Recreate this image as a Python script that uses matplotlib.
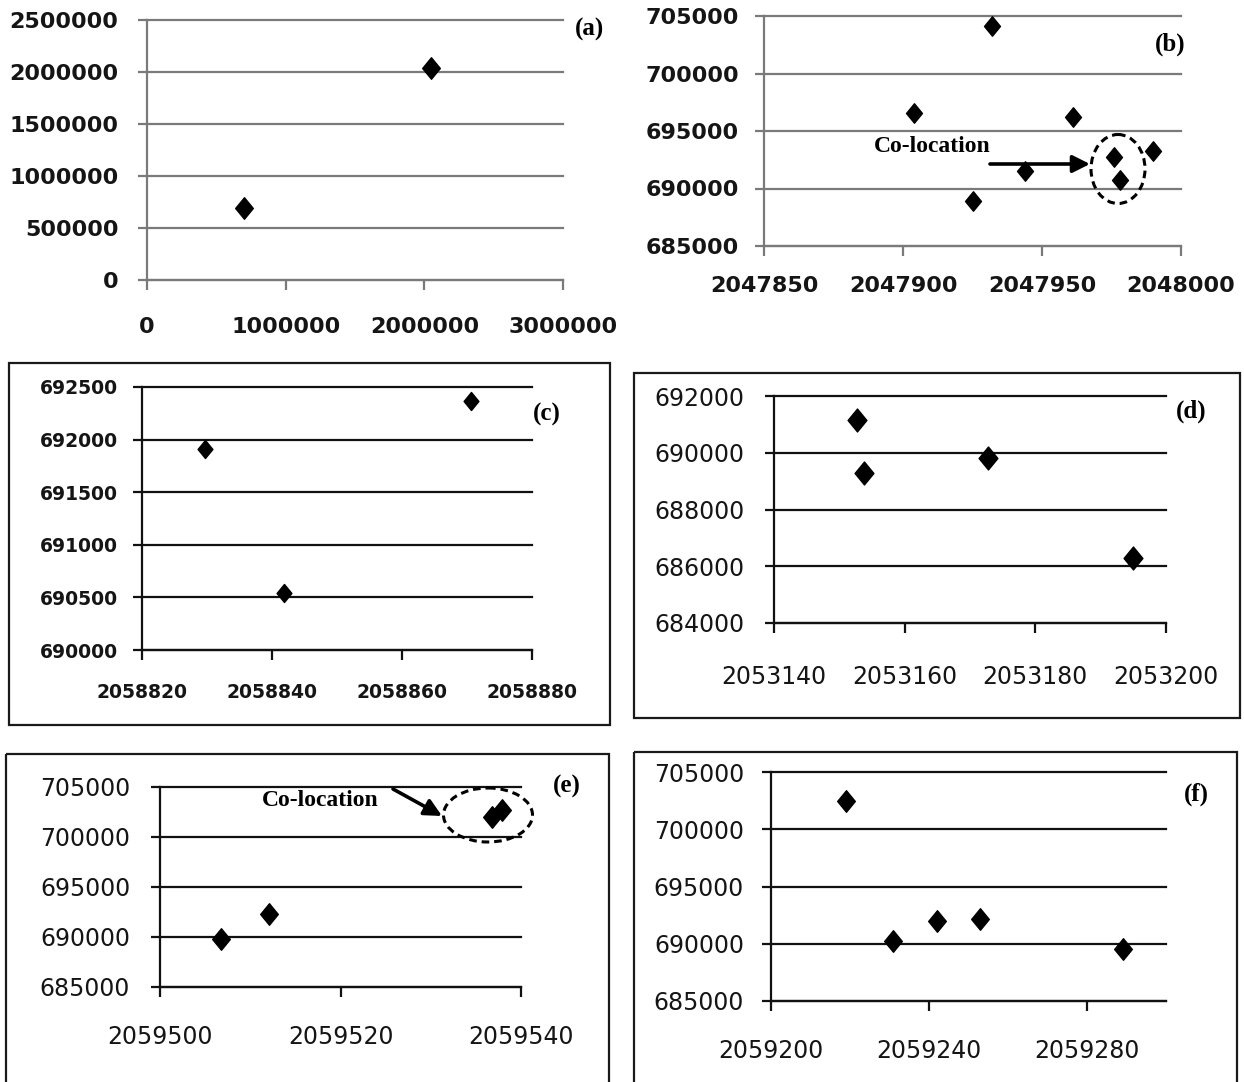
import matplotlib
matplotlib.use('Agg')
import matplotlib.pyplot as plt
from matplotlib.patches import Ellipse, Rectangle, FancyArrowPatch
from matplotlib.path import Path
from matplotlib.transforms import Affine2D

W, H = 1244, 1082

# values
a_x = [703000, 2050000]
a_y = [688000, 2040000]
a_xticks = [0, 1000000, 2000000, 3000000]
a_yticks = [0, 500000, 1000000, 1500000, 2000000, 2500000]

b_x = [2047904, 2047932, 2047925, 2047944, 2047961, 2047976, 2047978, 2047990]
b_y = [696600, 704100, 688900, 691550, 696200, 692700, 690700, 693300]
b_xticks = [2047850, 2047900, 2047950, 2048000]
b_yticks = [685000, 690000, 695000, 700000, 705000]

c_x = [2058829.7, 2058841.8, 2058870.6]
c_y = [691910, 690540, 692370]
c_xticks = [2058820, 2058840, 2058860, 2058880]
c_yticks = [690000, 690500, 691000, 691500, 692000, 692500]

d_x = [2053152.7, 2053153.7, 2053172.7, 2053195]
d_y = [691150, 689300, 689800, 686300]
d_xticks = [2053140, 2053160, 2053180, 2053200]
d_yticks = [684000, 686000, 688000, 690000, 692000]

e_x = [2059506.8, 2059512.1, 2059536.8, 2059537.9]
e_y = [689800, 692300, 702000, 702700]
e_xticks = [2059500, 2059520, 2059540]
e_yticks = [685000, 690000, 695000, 700000, 705000]

f_x = [2059219, 2059231, 2059242, 2059253, 2059289]
f_y = [702460, 690200, 691950, 692200, 689500]
f_xticks = [2059200, 2059240, 2059280]
f_yticks = [685000, 690000, 695000, 700000, 705000]

fig = plt.figure(figsize=(W / 100, H / 100), dpi=100)
pix = Affine2D().scale(1 / W, -1 / H).translate(0, 1) + fig.transFigure

diamond = Path([(0, 1), (0.82, 0), (0, -1), (-0.82, 0), (0, 1)],
               [Path.MOVETO, Path.LINETO, Path.LINETO, Path.LINETO, Path.CLOSEPOLY])


def panel(box, xs, ys, xticks, yticks, xlim, col, fs, weight, pads, ms, tag, tagpos):
    l, t, r, b = box
    ax = fig.add_axes([l / W, 1 - b / H, (r - l) / W, (b - t) / H])
    ax.set_xlim(xlim)
    ax.set_ylim(yticks[0], yticks[-1])
    ax.set_xticks(xticks)
    ax.set_yticks(yticks)
    ax.set_xticklabels([str(v) for v in xticks], fontsize=fs, fontweight=weight, color='#151515')
    ax.set_yticklabels([str(v) for v in yticks], fontsize=fs, fontweight=weight, color='#151515')
    for s in ['top', 'right']:
        ax.spines[s].set_visible(False)
    for s in ['left', 'bottom']:
        ax.spines[s].set_color(col)
        ax.spines[s].set_linewidth(1.6)
    ax.tick_params(axis='y', direction='out', length=6.5, width=1.6, color=col, pad=pads[0])
    ax.tick_params(axis='x', direction='out', length=7.5, width=1.6, color=col, pad=pads[1])
    ax.yaxis.grid(True, color=col, linewidth=1.6)
    ax.set_axisbelow(True)
    for g in ax.get_ygridlines():
        g.set_clip_on(False)
    ax.patch.set_alpha(0)
    ax.plot(xs, ys, linestyle='none', marker=diamond, markersize=ms, color='black', clip_on=False, zorder=5)
    fig.text(tagpos[0], tagpos[1], tag, transform=pix, ha='center', va='center',
             fontsize=18, fontweight='bold', family='Liberation Serif')
    return ax


panel((147, 20, 563, 280), a_x, a_y, a_xticks, a_yticks, (0, 3000000), '#7a7a7a', 16, 'bold',
      (14, 19), 15.5, '(a)', (590, 29))
panel((764, 16, 1181, 246), b_x, b_y, b_xticks, b_yticks, (2047850, 2048000), '#7a7a7a', 16, 'bold',
      (11.5, 14), 14, '(b)', (1170, 44))
panel((142, 387, 532, 650), c_x, c_y, c_xticks, c_yticks, (2058820, 2058880), '#111111', 13.5, 'bold',
      (11, 16), 13, '(c)', (547, 414))
panel((774, 396, 1166, 623), d_x, d_y, d_xticks, d_yticks, (2053140, 2053200), '#111111', 17, 'normal',
      (15, 23), 16.5, '(d)', (1191, 411))
panel((160, 787, 521, 987), e_x, e_y, e_xticks, e_yticks, (2059500, 2059540), '#111111', 17, 'normal',
      (15, 20), 15.5, '(e)', (567, 786))
panel((771, 772, 1166, 1001), f_x, f_y, f_xticks, f_yticks, (2059200, 2059300), '#111111', 17, 'normal',
      (13, 20), 15.5, '(f)', (1196, 794))

# boxes around panels c-f
for l, t, r, b in [(9, 363, 610, 725), (634, 373, 1240, 718), (6, 754, 609, 1095), (634, 752, 1237, 1095)]:
    fig.add_artist(Rectangle((l, t), r - l, b - t, transform=pix, fill=False, edgecolor='#1a1a1a', linewidth=1.6))

# co-location notes
fig.text(932, 146, 'Co-location', transform=pix, ha='center', va='center',
         fontsize=17, fontweight='bold', family='Liberation Serif')
fig.add_artist(FancyArrowPatch((990, 164), (1090, 164), transform=pix, arrowstyle='-|>',
                               mutation_scale=26, linewidth=2.6, color='black', shrinkA=0, shrinkB=0))
fig.add_artist(Ellipse((1118, 169), 54, 69, transform=pix, fill=False, edgecolor='black',
                       linewidth=2.2, linestyle=(0, (2.5, 1.6))))

fig.text(320, 801, 'Co-location', transform=pix, ha='center', va='center',
         fontsize=17, fontweight='bold', family='Liberation Serif')
fig.add_artist(FancyArrowPatch((393, 789), (442, 816), transform=pix, arrowstyle='-|>',
                               mutation_scale=26, linewidth=2.6, color='black', shrinkA=0, shrinkB=0))
fig.add_artist(Ellipse((488, 815), 89, 54, transform=pix, fill=False, edgecolor='black',
                       linewidth=2.2, linestyle=(0, (2.5, 1.6))))

fig.savefig('out.png', dpi=100)
